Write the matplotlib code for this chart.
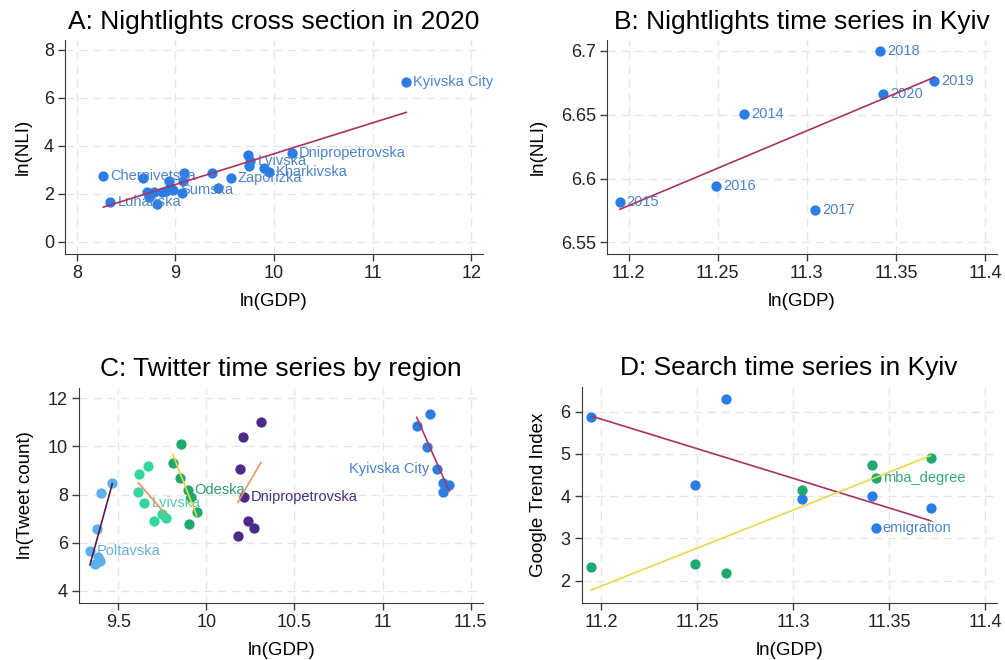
import matplotlib
matplotlib.use('Agg')
import matplotlib.pyplot as plt

plt.rcParams['font.family'] = ['Liberation Sans', 'DejaVu Sans']

# A: cross section 2020
a_gdp = [11.34, 10.18, 9.74, 9.76, 9.75, 9.95, 9.90, 9.56, 9.37, 9.43, 8.98, 8.27, 8.67, 8.34,
         8.81, 8.71, 8.78, 8.73, 8.86, 8.93, 8.95, 9.09, 9.08, 9.07, 8.90]
a_nli = [6.65, 3.68, 3.62, 3.35, 3.18, 2.93, 3.08, 2.68, 2.85, 2.24, 2.17, 2.75, 2.65, 1.65,
         1.60, 2.06, 2.08, 1.85, 2.06, 2.54, 2.28, 2.85, 2.55, 2.02, 2.12]
a_names = ['Kyivska City', 'Dnipropetrovska', '', 'Lvivska', '', 'Kharkivska', '', 'Zaporizka', '', '',
           'Sumska', 'Chernivetska', '', 'Luhanska', '', '', '', '', '', '', '', '', '', '', '']
a_fit = [1.45, 5.39]

# B and D: Kyiv time series
years = ['2014', '2015', '2016', '2017', '2018', '2019', '2020']
kyiv_gdp = [11.265, 11.195, 11.249, 11.3045, 11.341, 11.3716, 11.343]
kyiv_nli = [6.6506, 6.5816, 6.5939, 6.575, 6.700, 6.6767, 6.666]
b_fit = [6.5758, 6.6794]
d_emig = [6.31, 5.867, 4.27, 3.93, 4.00, 3.71, 3.24]
d_mba = [2.18, 2.32, 2.39, 4.14, 4.75, 4.90, 4.44]
d_emig_fit = [5.898, 3.42]
d_mba_fit = [1.78, 4.96]

# C: twitter by region
c_regions = ['Poltavska', 'Lvivska', 'Odeska', 'Dnipropetrovska', 'Kyivska City']
c_gdp = [[9.466, 9.402, 9.377, 9.339, 9.368, 9.396, 9.383],
         [9.619, 9.670, 9.614, 9.648, 9.703, 9.750, 9.769],
         [9.856, 9.809, 9.852, 9.894, 9.913, 9.945, 9.901],
         [10.310, 10.209, 10.191, 10.213, 10.234, 10.272, 10.178],
         [11.269, 11.194, 11.250, 11.307, 11.345, 11.379, 11.345]]
c_tweets = [[8.49, 8.07, 6.55, 5.65, 5.09, 5.24, 5.41],
            [8.84, 9.18, 8.09, 7.63, 6.88, 7.17, 7.01],
            [10.10, 9.30, 8.70, 8.19, 7.91, 7.26, 6.77],
            [11.01, 10.38, 9.06, 7.91, 6.91, 6.59, 6.27],
            [11.35, 10.85, 9.99, 9.06, 8.46, 8.39, 8.09]]
c_fit = [[5.07, 8.45], [8.49, 7.17], [9.68, 7.12], [7.67, 9.34], [11.21, 8.14]]
c_label_idx = [3, 3, 3, 3, 3]
c_marker_col = ['#5bb0ee', '#33d6a0', '#1fa86c', '#4b2a8a', '#2b7de4']
c_label_col = ['#6aaee2', '#55c9a5', '#2a9e6c', '#4a2f80', '#4a80c8']
c_line_col = ['#5c1a3d', '#e8935a', '#e6d548', '#e89a62', '#b03262']

blue = '#2b7de6'
blue_txt = '#4d84cc'
red = '#a83260'

W, H = 1005, 660
fig = plt.figure(figsize=(W / 100, H / 100), dpi=100)


def make_ax(l, t, r, b):
    ax = fig.add_axes([l / W, 1 - b / H, (r - l) / W, (b - t) / H])
    for s in ['top', 'right']:
        ax.spines[s].set_visible(False)
    for s in ['left', 'bottom']:
        ax.spines[s].set_color('#3a3a3a')
    ax.tick_params(length=5, width=1, color='#3a3a3a', labelsize=13, pad=3, labelcolor='#222222')
    ax.grid(True, color='#e6e6e6', linestyle=(0, (6, 4)), linewidth=1)
    ax.set_axisbelow(True)
    return ax


def label(ax, x, y, txt, col, left=False):
    ax.annotate(txt, (x, y), xytext=(-5 if left else 5, 0), textcoords='offset points',
                ha='right' if left else 'left', va='center', fontsize=10.5, color=col)


# panel A
ax = make_ax(65, 40, 483, 254)
ax.scatter(a_gdp, a_nli, s=55, color=blue, zorder=3, linewidths=0)
for x, y, n in zip(a_gdp, a_nli, a_names):
    if n:
        label(ax, x, y, n, blue_txt)
ax.plot([min(a_gdp), max(a_gdp)], a_fit, color=red, lw=1.2, zorder=4)
ax.set_xlim(7.88, 12.12)
ax.set_ylim(-0.5, 8.4)
ax.set_xticks([8, 9, 10, 11, 12])
ax.set_yticks([0, 2, 4, 6, 8])
ax.set_xlabel('ln(GDP)', fontsize=13.5, labelpad=8)
ax.set_ylabel('ln(NLI)', fontsize=13.5, labelpad=9)
ax.set_title('A: Nightlights cross section in 2020', fontsize=19, pad=8)

# panel B
ax = make_ax(607.3, 40, 996.7, 254)
ax.scatter(kyiv_gdp, kyiv_nli, s=55, color=blue, zorder=3, linewidths=0)
for x, y, n in zip(kyiv_gdp, kyiv_nli, years):
    label(ax, x, y, n, blue_txt)
ax.plot([min(kyiv_gdp), max(kyiv_gdp)], b_fit, color=red, lw=1.2, zorder=4)
ax.set_xlim(11.188, 11.4066)
ax.set_ylim(6.5408, 6.7086)
ax.set_xticks([11.2, 11.25, 11.3, 11.35, 11.4])
ax.set_xticklabels(['11.2', '11.25', '11.3', '11.35', '11.4'])
ax.set_yticks([6.55, 6.6, 6.65, 6.7])
ax.set_yticklabels(['6.55', '6.6', '6.65', '6.7'])
ax.set_xlabel('ln(GDP)', fontsize=13.5, labelpad=8)
ax.set_ylabel('ln(NLI)', fontsize=13.5, labelpad=10)
ax.set_title('B: Nightlights time series in Kyiv', fontsize=19, pad=8)

# panel C
ax = make_ax(79, 388.3, 483.3, 602.7)
for i in range(len(c_regions)):
    ax.scatter(c_gdp[i], c_tweets[i], s=55, color=c_marker_col[i], zorder=3, linewidths=0)
    k = c_label_idx[i]
    label(ax, c_gdp[i][k], c_tweets[i][k], c_regions[i], c_label_col[i], left=(c_regions[i] == 'Kyivska City'))
    ax.plot([min(c_gdp[i]), max(c_gdp[i])], c_fit[i], color=c_line_col[i], lw=1.2, zorder=4)
ax.set_xlim(9.277, 11.572)
ax.set_ylim(3.5, 12.42)
ax.set_xticks([9.5, 10, 10.5, 11, 11.5])
ax.set_xticklabels(['9.5', '10', '10.5', '11', '11.5'])
ax.set_yticks([4, 6, 8, 10, 12])
ax.set_xlabel('ln(GDP)', fontsize=13.5, labelpad=8)
ax.set_ylabel('ln(Tweet count)', fontsize=13.5, labelpad=10)
ax.set_title('C: Twitter time series by region', fontsize=19, pad=9)

# panel D
ax = make_ax(581.7, 387.3, 996.7, 602.7)
ax.scatter(kyiv_gdp, d_emig, s=55, color=blue, zorder=3, linewidths=0)
ax.scatter(kyiv_gdp, d_mba, s=55, color='#1fa870', zorder=3, linewidths=0)
label(ax, kyiv_gdp[6], d_emig[6], 'emigration', blue_txt)
label(ax, kyiv_gdp[6], d_mba[6], 'mba_degree', '#34a877')
ax.plot([min(kyiv_gdp), max(kyiv_gdp)], d_emig_fit, color=red, lw=1.2, zorder=4)
ax.plot([min(kyiv_gdp), max(kyiv_gdp)], d_mba_fit, color='#e8d84a', lw=1.2, zorder=4)
ax.set_xlim(11.19, 11.406)
ax.set_ylim(1.48, 6.578)
ax.set_xticks([11.2, 11.25, 11.3, 11.35, 11.4])
ax.set_xticklabels(['11.2', '11.25', '11.3', '11.35', '11.4'])
ax.set_yticks([2, 3, 4, 5, 6])
ax.set_xlabel('ln(GDP)', fontsize=13.5, labelpad=8)
ax.set_ylabel('Google Trend Index', fontsize=13.5, labelpad=10)
ax.set_title('D: Search time series in Kyiv', fontsize=19, pad=9)

plt.savefig('out.png', dpi=100)
